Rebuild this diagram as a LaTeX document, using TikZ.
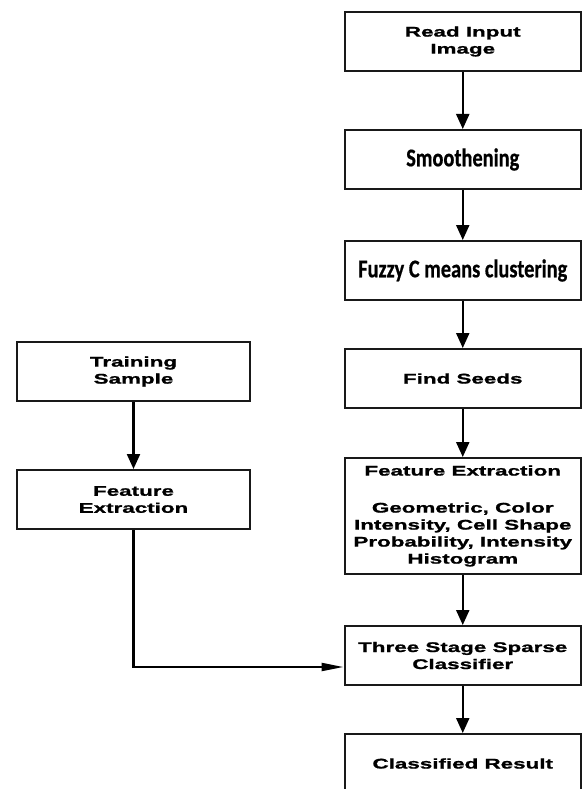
\documentclass[tikz,border=0pt]{standalone}
\usepackage{fontspec}
\usetikzlibrary{arrows.meta}
\newfontfamily\arialw{Liberation Sans}[FakeStretch=1.6,FakeBold=1.2]
\newfontfamily\calw{Carlito}[FakeStretch=0.8,FakeBold=0.6]
\begin{document}
\begin{tikzpicture}[x=1pt,y=-1pt,
  box/.style={draw=black!90, line width=2pt, fill=white, minimum width=236.5pt, inner sep=0pt, align=center, font=\arialw\bfseries\fontsize{14}{17}\selectfont},
  lbox/.style={box, minimum width=233pt},
  cbox/.style={box, font=\calw\bfseries\fontsize{25.5}{30}\selectfont},
  arr/.style={line width=2.2pt, -{Triangle[length=15pt,width=13pt]}},
  harr/.style={line width=2.2pt, -{Triangle[length=22pt,width=8pt]}}]
\clip (0,0) rectangle (582,789);
\useasboundingbox (0,0) rectangle (582,789);
\fill[white] (0,0) rectangle (582,789);
% right column
\node[box, minimum height=59pt] (read) at (462.75,41.5) {Read Input\\Image};
\node[cbox, minimum height=59pt] (smooth) at (462.75,159.5) {Smoothening};
\node[cbox, minimum height=59pt] (fuzzy) at (462.75,270.5) {Fuzzy C means clustering};
\node[box, minimum height=59pt] (seeds) at (462.75,378.5) {Find Seeds};
\node[box, minimum height=116pt] (feat) at (462.75,516) {Feature Extraction\\[20pt]Geometric, Color\\Intensity, Cell Shape\\Probability, Intensity\\Histogram};
\node[box, minimum height=59pt] (cls) at (462.75,655.5) {Three Stage Sparse\\Classifier};
\node[box, minimum height=59pt] (res) at (462.75,763.5) {Classified Result};
% left column
\node[lbox, minimum height=59pt] (train) at (133.5,371.5) {Training\\Sample};
\node[lbox, minimum height=59pt] (fe2) at (133.5,499.5) {Feature\\Extraction};
% connectors
\draw[arr] (read) -- (smooth);
\draw[arr] (smooth) -- (fuzzy);
\draw[arr] (fuzzy) -- (seeds);
\draw[arr] (seeds) -- (feat);
\draw[arr] (feat) -- (cls);
\draw[arr] (cls) -- (res);
\draw[arr] (train) -- (fe2);
\draw[harr] (fe2.south) |- ([yshift=-11.5pt]cls.west);
\end{tikzpicture}
\end{document}
